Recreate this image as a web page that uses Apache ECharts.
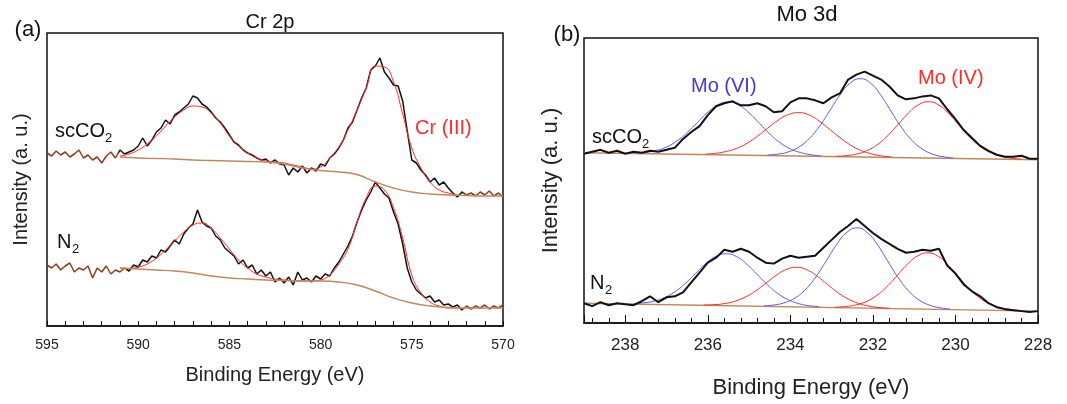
<!DOCTYPE html>
<html lang="en">
<head>
    <meta charset="UTF-8">
    <title>XPS Cr 2p / Mo 3d</title>
    <style>
        html, body { margin: 0; padding: 0; background: #fff; }
        #chart { width: 1067px; height: 404px; }
    </style>
</head>
<body>
<div id="chart"></div>
<script src="https://cdn.jsdelivr.net/npm/echarts@6/dist/echarts.min.js"></script>
<script>
    // Cr 2p raw spectra, 595 -> 570 eV, 0.25 eV step (intensity, a.u.)
    var crScco2 = [
        173, 170, 175, 171, 174, 169, 172, 176, 168, 171,
        166, 169, 163, 170, 174, 168, 176, 172, 174, 176,
        180, 188, 180, 186, 194, 198, 206, 202, 211, 214,
        218, 222, 230, 228, 222, 219, 214, 208, 204, 198,
        191, 184, 181, 176, 173, 171, 168, 166, 167, 163,
        166, 162, 161, 151, 158, 154, 160, 153, 158, 155,
        162, 160, 168, 172, 178, 186, 198, 204, 216, 228,
        238, 256, 260, 268, 254, 248, 241, 240, 225, 195,
        166, 163, 156, 151, 144, 148, 141, 144, 138, 133,
        129, 134, 131, 133, 130, 134, 131, 135, 130, 133, 129
    ];
    var crN2 = [
        61, 58, 62, 56, 60, 63, 54, 58, 56, 60,
        48, 58, 54, 60, 52, 56, 54, 58, 55, 61,
        59, 66, 64, 70, 68, 76, 74, 80, 86, 82,
        92, 98, 102, 116, 104, 100, 98, 90, 86, 78,
        74, 70, 62, 66, 58, 61, 52, 56, 50, 54,
        44, 48, 43, 49, 41, 54, 46, 48, 44, 50,
        47, 52, 50, 58, 64, 72, 80, 90, 104, 116,
        126, 134, 144, 138, 132, 128, 114, 102, 82, 58,
        44, 36, 32, 28, 30, 24, 26, 21, 22, 19,
        21, 16, 20, 17, 20, 18, 21, 17, 20, 18, 21
    ];
    // Cr 2p fit envelopes, 591 -> 572.5 eV, 0.5 eV step
    var crScco2Fit = [
        170, 172, 176, 182, 190, 200, 209, 216, 220,
        219, 213, 203, 190, 180, 173, 168, 165, 164,
        163, 161, 159, 157, 159, 168, 179, 196, 216,
        238, 260, 259, 244, 212, 178, 158, 144, 136,
        133, 131
    ];
    var crN2Fit = [
        58, 57.5, 59, 62, 68, 76, 85, 94, 101,
        103, 98, 88, 77, 66, 58, 52, 49, 47,
        46, 45.5, 45, 45, 46, 51, 62, 77, 104,
        128, 140, 136, 118, 88, 51, 33, 24, 20,
        18, 18
    ];
    // Cr 2p backgrounds, 591 -> 570 eV, 1 eV step
    var crScco2Bg = [169, 168, 167.5, 167, 166, 165.5, 165, 164.5, 164, 162, 158,
        155.5, 154, 151.5, 144, 138, 134, 132, 131, 130.5, 130, 130];
    var crN2Bg = [58, 57, 56, 55, 53, 50, 48, 47, 46, 45.5, 45,
        45, 44, 41, 35, 28, 23, 20, 18.5, 18, 18, 18];

    // Mo 3d raw spectra, 239 -> 228 eV, 0.2 eV step
    var moScco2 = [
        171, 173, 175, 172, 174, 171, 173, 172, 174, 173,
        175, 177, 186, 193, 199, 210, 219, 222, 224, 220,
        220, 222, 219, 213, 214, 223, 227, 227, 225, 222,
        228, 232, 246, 251, 254, 250, 246, 239, 230, 226,
        227, 229, 230, 227, 216, 206, 195, 187, 179, 174,
        170, 168, 168, 169, 166, 166
    ];
    var moN2 = [
        20, 17, 21, 18, 20, 19, 18, 22, 27, 21,
        26, 27, 31, 41, 51, 61, 66, 74, 72, 75,
        72, 66, 61, 60, 65, 68, 66, 67, 68, 76,
        84, 92, 98, 105, 98, 91, 85, 80, 75, 71,
        72, 74, 73, 75, 58, 50, 39, 32, 27, 20,
        16, 14, 13, 12, 11, 12
    ];
    // Mo 3d linear backgrounds at 239 and 228 eV
    var moScco2Bg = [172, 165];
    var moN2Bg = [20, 12];
    // Mo 3d components: peak centres (eV) and curves from centre+2.25 to centre-2.25, 0.25 eV step
    var moScco2Centers = [235.5, 233.8, 232.3, 230.65];
    var moScco2Vi1 = [171.8, 172.5, 174.4, 177.9, 183.9, 192.4, 202.7, 213.0, 220.5, 223.3,
        220.2, 212.4, 201.8, 191.1, 182.3, 176.0, 172.2, 170.0, 168.9];
    var moScco2Iv1 = [170.8, 171.5, 173.4, 176.5, 181.6, 188.7, 196.8, 204.8, 210.6, 212.6,
        210.3, 204.1, 195.8, 187.4, 180.0, 174.5, 171.1, 168.9, 167.9];
    var moScco2Vi2 = [169.8, 170.7, 172.9, 177.6, 186.1, 198.5, 214.2, 230.3, 242.4, 246.9,
        242.1, 229.6, 213.3, 197.2, 184.4, 175.7, 170.6, 168.0, 166.8];
    var moScco2Iv2 = [168.5, 169.1, 170.7, 174.1, 180.0, 189.0, 200.2, 211.7, 220.4, 223.6,
        220.1, 211.1, 199.3, 187.7, 178.4, 172.2, 168.5, 166.6, 165.6];
    var moN2Centers = [235.55, 233.85, 232.38, 230.67];
    var moN2Vi1 = [19.7, 20.4, 22.2, 25.7, 31.5, 39.8, 49.9, 60.0, 67.4, 70.0,
        67.0, 59.2, 48.8, 38.4, 29.7, 23.5, 19.6, 17.5, 16.5];
    var moN2Iv1 = [18.2, 18.5, 19.6, 21.9, 26.1, 32.2, 40.0, 48.0, 54.0, 56.3,
        53.7, 47.3, 38.9, 30.7, 24.3, 19.8, 17.1, 15.6, 14.9];
    var moN2Vi2 = [17.5, 18.3, 20.7, 25.5, 34.0, 46.8, 62.8, 79.3, 91.6, 96.2,
        91.2, 78.5, 61.7, 45.4, 32.2, 23.3, 18.1, 15.4, 14.1];
    var moN2Iv2 = [16.0, 16.6, 18.2, 21.5, 27.5, 36.4, 47.6, 59.1, 67.7, 70.9,
        67.4, 58.4, 46.5, 34.9, 25.6, 19.4, 15.7, 13.7, 12.7];

    var FONT = '"Liberation Sans", Arial, sans-serif';
    var BLACK = '#111';
    var BROWN = '#c4875c';
    var DATA_BROWN = '#8e3b1e';
    var RED = '#ff2a2a';
    var BLUE = '#5b5bf2';

    function pairs(start, step, vals) {
        return vals.map(function (v, i) {
            return [+(start + i * step).toFixed(3), v];
        });
    }
    function peak(center, vals) {
        return pairs(center + 2.25, -0.25, vals);
    }
    function line(data, xi, color, width, smooth) {
        var s = {
            type: 'line', xAxisIndex: xi, yAxisIndex: xi, data: data,
            showSymbol: false, symbol: 'none', smooth: !!smooth, silent: true,
            lineStyle: {width: width}
        };
        // colour left to visualMap when null
        if (color) s.lineStyle.color = color;
        return s;
    }
    function text(str, x, y, size, color, align) {
        return {
            type: 'text', x: x, y: y, silent: true,
            style: {
                text: str, font: size + 'px ' + FONT, fill: color || BLACK,
                align: align || 'left', textAlign: align || 'left',
                verticalAlign: 'middle', textVerticalAlign: 'middle'
            }
        };
    }

    var chart = echarts.init(document.getElementById('chart'));

    var xBase = {
        type: 'value', inverse: true,
        axisLine: {show: true, lineStyle: {color: BLACK, width: 1.5}},
        splitLine: {show: false},
        nameLocation: 'middle'
    };

    var option = {
        animation: false,
        backgroundColor: '#fff',
        grid: [
            {left: 47, top: 33, width: 456, height: 293, show: true, borderColor: BLACK, borderWidth: 1.5},
            {left: 584, top: 38, width: 454, height: 288, show: true, borderColor: BLACK, borderWidth: 1.5}
        ],
        xAxis: [
            Object.assign({}, xBase, {
                gridIndex: 0, min: 570, max: 595, interval: 5,
                name: 'Binding Energy (eV)', nameGap: 39,
                nameTextStyle: {fontFamily: FONT, fontSize: 20, color: '#222'},
                axisTick: {inside: true, length: 5, lineStyle: {color: BLACK}},
                minorTick: {show: true, splitNumber: 5, length: 5, lineStyle: {color: BLACK}},
                axisLabel: {fontFamily: FONT, fontSize: 14, color: '#222', margin: 12}
            }),
            Object.assign({}, xBase, {
                gridIndex: 1, min: 228, max: 239, interval: 2,
                name: 'Binding Energy (eV)', nameGap: 54,
                nameTextStyle: {fontFamily: FONT, fontSize: 22, color: '#222'},
                axisTick: {inside: true, length: 8, lineStyle: {color: BLACK}},
                minorTick: {show: true, splitNumber: 5, length: 5, lineStyle: {color: BLACK}},
                axisLabel: {fontFamily: FONT, fontSize: 17, color: '#222', margin: 14, showMaxLabel: false}
            })
        ],
        yAxis: [
            {
                type: 'value', gridIndex: 0, min: 0, max: 293,
                axisLine: {show: false}, axisTick: {show: false}, axisLabel: {show: false},
                splitLine: {show: false},
                name: 'Intensity (a. u.)', nameLocation: 'middle', nameGap: 16,
                nameTextStyle: {fontFamily: FONT, fontSize: 20, color: '#222'}
            },
            {
                type: 'value', gridIndex: 1, min: 0, max: 288,
                axisLine: {show: false}, axisTick: {show: false}, axisLabel: {show: false},
                splitLine: {show: false},
                name: 'Intensity (a. u.)', nameLocation: 'middle', nameGap: 22,
                nameTextStyle: {fontFamily: FONT, fontSize: 22, color: '#222'}
            }
        ],
        visualMap: [
            {
                type: 'piecewise', show: false, dimension: 0, seriesIndex: 0,
                pieces: [{gt: 591.1, color: DATA_BROWN}, {lt: 572.2, color: DATA_BROWN}],
                outOfRange: {color: BLACK}
            },
            {
                type: 'piecewise', show: false, dimension: 0, seriesIndex: 1,
                pieces: [{gt: 590.6, color: DATA_BROWN}, {lt: 572.2, color: DATA_BROWN}],
                outOfRange: {color: BLACK}
            }
        ],
        series: [
            line(pairs(595, -0.25, crScco2), 0, null, 1.5),
            line(pairs(595, -0.25, crN2), 0, null, 1.5),
            line(pairs(591, -0.5, crScco2Fit), 0, RED, 1, true),
            line(pairs(591, -0.5, crN2Fit), 0, RED, 1, true),
            line(pairs(591, -1, crScco2Bg), 0, BROWN, 1.4, true),
            line(pairs(591, -1, crN2Bg), 0, BROWN, 1.4, true),

            line([[239, moScco2Bg[0]], [228, moScco2Bg[1]]], 1, BROWN, 1.4),
            line([[239, moN2Bg[0]], [228, moN2Bg[1]]], 1, BROWN, 1.4),
            line(peak(moScco2Centers[0], moScco2Vi1), 1, BLUE, 1, true),
            line(peak(moScco2Centers[1], moScco2Iv1), 1, RED, 1, true),
            line(peak(moScco2Centers[2], moScco2Vi2), 1, BLUE, 1, true),
            line(peak(moScco2Centers[3], moScco2Iv2), 1, RED, 1, true),
            line(peak(moN2Centers[0], moN2Vi1), 1, BLUE, 1, true),
            line(peak(moN2Centers[1], moN2Iv1), 1, RED, 1, true),
            line(peak(moN2Centers[2], moN2Vi2), 1, BLUE, 1, true),
            line(peak(moN2Centers[3], moN2Iv2), 1, RED, 1, true),
            line(pairs(239, -0.2, moScco2), 1, BLACK, 2),
            line(pairs(239, -0.2, moN2), 1, BLACK, 2)
        ],
        graphic: [
            text('(a)', 28, 30, 22, BLACK, 'center'),
            text('Cr 2p', 270, 22, 20, BLACK, 'center'),
            text('(b)', 567, 35, 22, BLACK, 'center'),
            text('Mo 3d', 807, 15, 22, BLACK, 'center'),
            text('scCO', 55, 131, 20),
            text('2', 105, 138, 13),
            text('N', 57, 242, 20),
            text('2', 72, 249, 13),
            text('Cr (III)', 415, 128, 20, RED),
            text('scCO', 592, 137, 20),
            text('2', 642, 144, 13),
            text('N', 590, 283, 20),
            text('2', 605, 290, 13),
            text('Mo (VI)', 691, 86, 20, '#3b3be0'),
            text('Mo (IV)', 918, 78, 20, RED)
        ]
    };

    chart.setOption(option);
</script>
</body>
</html>
